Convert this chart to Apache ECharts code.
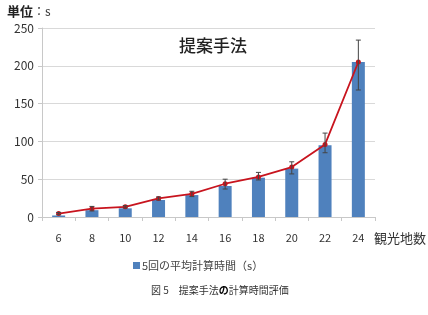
<!DOCTYPE html>
<html>
<head>
<meta charset="utf-8">
<script src="https://cdn.jsdelivr.net/npm/echarts@6/dist/echarts.min.js"></script>
<style>
html, body { margin: 0; padding: 0; background: #fff; }
#main { width: 428px; height: 315px; }
</style>
</head>
<body>
<div id="main"></div>
<script>
var categories = ['6', '8', '10', '12', '14', '16', '18', '20', '22', '24'];
var barValues = [2, 9, 11.5, 22.5, 29, 41, 52, 64, 95, 205];
var lineValues = [4.5, 11, 13.5, 24.5, 30.5, 44, 53, 66, 96, 205];
var errLow = [3, 8, 12, 22.5, 27, 37, 49, 57, 85, 168];
var errHigh = [6, 14, 15, 26.5, 34, 50, 59, 73, 111, 234];

var font = '"Noto Sans CJK JP", "Noto Sans", sans-serif';

var myChart = echarts.init(document.getElementById('main'));
myChart.setOption({
    animation: false,
    textStyle: { fontFamily: font },
    title: [
        {
            text: '{b|単位}：s', left: 2, top: 0,
            textStyle: {
                fontSize: 12, fontWeight: 'normal', color: '#333',
                rich: { b: { fontSize: 13, fontWeight: 'bold', color: '#222' } }
            }
        },
        { text: '提案手法', left: 174, top: 32, textStyle: { fontSize: 17, fontWeight: 500, color: '#222' } },
        { text: '観光地数', left: 369, top: 227, textStyle: { fontSize: 13, fontWeight: 'normal', color: '#333' } },
        {
            text: '図 5　提案手法{b|の}計算時間評価', left: 146, top: 280,
            textStyle: {
                fontSize: 10, fontWeight: 'normal', color: '#333',
                rich: { b: { fontSize: 10, fontWeight: 'bold', color: '#000' } }
            }
        }
    ],
    grid: { left: 42, right: 53, top: 28, bottom: 98 },
    legend: {
        data: [{ name: '5回の平均計算時間（s）', icon: 'rect' }],
        left: 128, top: 255,
        itemWidth: 7, itemHeight: 7, itemGap: 2,
        textStyle: { fontSize: 11, color: '#444', padding: [0, 0, 0, -3] }
    },
    xAxis: {
        type: 'category',
        data: categories,
        boundaryGap: true,
        axisLine: { lineStyle: { color: '#c8c8c8' } },
        axisTick: { show: true, length: 4, lineStyle: { color: '#c8c8c8' } },
        axisLabel: { fontSize: 11, color: '#333', margin: 15 }
    },
    yAxis: {
        type: 'value',
        min: 0, max: 250, interval: 50,
        axisLine: { show: true, lineStyle: { color: '#c8c8c8' } },
        axisTick: { show: true, length: 4, lineStyle: { color: '#c8c8c8' } },
        axisLabel: { fontSize: 12, color: '#333', margin: 8 },
        splitLine: { lineStyle: { color: '#d9d9d9' } }
    },
    series: [
        {
            name: '5回の平均計算時間（s）',
            type: 'bar',
            data: barValues,
            barWidth: 13,
            itemStyle: { color: '#4f81bd' }
        },
        {
            name: 'line',
            type: 'line',
            data: lineValues,
            symbol: 'circle',
            symbolSize: 5,
            lineStyle: { color: '#c8141e', width: 1.8 },
            itemStyle: { color: '#c8141e' },
            z: 4
        },
        {
            name: 'err',
            type: 'custom',
            z: 5,
            data: categories.map(function (c, i) { return [i, errLow[i], errHigh[i]]; }),
            renderItem: function (params, api) {
                var lo = api.coord([api.value(0), api.value(1)]);
                var hi = api.coord([api.value(0), api.value(2)]);
                var x = lo[0], w = 2.5;
                var st = { stroke: '#444', lineWidth: 1 };
                return {
                    type: 'group',
                    children: [
                        { type: 'line', shape: { x1: x, y1: lo[1], x2: x, y2: hi[1] }, style: st },
                        { type: 'line', shape: { x1: x - w, y1: lo[1], x2: x + w, y2: lo[1] }, style: st },
                        { type: 'line', shape: { x1: x - w, y1: hi[1], x2: x + w, y2: hi[1] }, style: st }
                    ]
                };
            }
        }
    ]
});
</script>
</body>
</html>
